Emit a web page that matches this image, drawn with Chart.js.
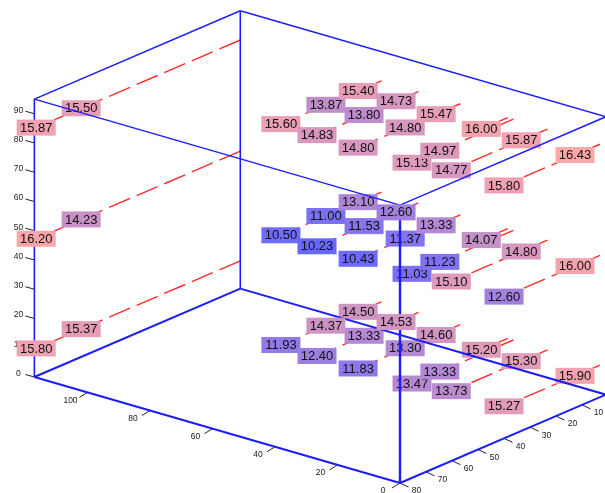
<!DOCTYPE html>
<html>
<head>
<meta charset="utf-8">
<style>
  html, body { margin: 0; padding: 0; background: #fff; }
  canvas { display: block; filter: blur(0.6px); }
</style>
<script src="https://cdn.jsdelivr.net/npm/chart.js@4.4.1/dist/chart.umd.min.js"></script>
</head>
<body>
<canvas id="chart" width="605" height="493"></canvas>
<script>
// axis ranges of the box
const xMax = 117;
const yMin = 0.8;
const yMax = 80;
const zMax = 95;

const xTicks = [100, 80, 60, 40, 20, 0];
const yTicks = [10, 20, 30, 40, 50, 60, 70, 80];
const zTicks = [0, 10, 20, 30, 40, 50, 60, 70, 80, 90];

// each red line runs along y at a fixed x and z
const lineX = [117, 71.8, 60, 46.6, 29.6, 31.4, 18.7, 1.9];
const lineY = [
  [79.3, 62],
  [39.5, 22.2, 9.8],
  [39.8, 21.7, 9.4],
  [40.1, 22, 10.1],
  [39.8, 29.1],
  [11],
  [37.8, 10.9],
  [37.7, 10.4],
];
const levelZ = [85, 47, 9.5];

const topValues = [15.87, 15.50, 15.60, 13.87, 15.40, 14.83, 13.80, 14.73, 14.80, 14.80, 15.47, 15.13, 14.97, 16.00, 14.77, 15.87, 15.80, 16.43];
const midValues = [16.20, 14.23, 10.50, 11.00, 13.10, 10.23, 11.53, 12.60, 10.43, 11.37, 13.33, 11.03, 11.23, 14.07, 15.10, 14.80, 12.60, 16.00];
const lowValues = [15.80, 15.37, 11.93, 14.37, 14.50, 12.40, 13.33, 14.53, 11.83, 13.30, 14.60, 13.47, 13.33, 15.20, 13.73, 15.30, 15.27, 15.90];
const levelValues = [topValues, midValues, lowValues];

// parallel projection of the box onto the page
const project = (x, y, z) => ({
  x: 400 - 3.125 * x + 2.6 * (yMax - y),
  y: 483 - 0.906 * x - 1.116 * (yMax - y) - 2.925 * z,
});

const lineSet = (data, color, width, extra) => Object.assign({
  data, showLine: true, borderColor: color, borderWidth: width, pointRadius: 0, clip: false,
}, extra);

const blue = '#1c1cff';
const corners = {
  a: [xMax, yMax], b: [xMax, yMin], r: [0, yMin], f: [0, yMax],
};
const edge = (p, q, zp, zq, width) => lineSet(
  [project(...corners[p], zp), project(...corners[q], zq)], blue, width);

const boxSets = [
  edge('a', 'b', 0, 0, 2), edge('b', 'r', 0, 0, 2), edge('r', 'f', 0, 0, 2), edge('f', 'a', 0, 0, 2),
  edge('a', 'b', zMax, zMax, 1.4), edge('b', 'r', zMax, zMax, 1.4), edge('r', 'f', zMax, zMax, 1.4), edge('f', 'a', zMax, zMax, 1.4),
  edge('a', 'a', 0, zMax, 1.6), edge('b', 'b', 0, zMax, 1.6), edge('f', 'f', 0, zMax, 2.4), edge('r', 'r', 0, zMax, 1.2),
];

const tickSets = [];
const tickTexts = [];
const addTick = (text, at, dx, dy, lx, ly) => {
  tickSets.push(lineSet([at, { x: at.x + dx, y: at.y + dy }], '#222', 1));
  tickTexts.push({ text, dataset: tickSets.length - 1, lx, ly });
};
xTicks.forEach((t) => addTick(t, project(t, yMax, 0), -8, 5, -9, 3));
yTicks.forEach((t) => addTick(t, project(0, t, 0), 8.5, 4, 8, 4));
zTicks.forEach((t) => addTick(t, project(xMax, yMax, t), -9, -2.5, -7, -1));

const redSets = [];
const pointSets = [];
levelZ.forEach((z) => {
  const pts = [];
  lineX.forEach((x, i) => {
    const marks = lineY[i].map((y) => project(x, y, z));
    pts.push(...marks);
    // drawn from the far wall so the dash phase starts there
    redSets.push(lineSet([project(x, yMin, z), ...marks.slice().reverse()], '#ff2a2a', 1.4, { borderDash: [22.7, 7.3] }));
  });
  pointSets.push({ data: pts, pointRadius: 0, showLine: false });
});

const datasets = [...boxSets, ...tickSets, ...redSets, ...pointSets];
const tickStart = boxSets.length;
const firstRed = boxSets.length + tickSets.length;
const firstPoints = firstRed + redSets.length;

const valueColor = (v) => {
  const t = (v - 10.23) / (16.43 - 10.23);
  const r = Math.round(104 + 151 * t);
  const g = Math.round(104 + 64 * t);
  const b = Math.round(255 - 87 * t);
  return `rgb(${r},${g},${b})`;
};

// these labels sit in front of the box lines, the rest behind
const inFront = (level, i) => i === 0 || i === 7 || (level === 2 && i === 3);

const drawLabels = (chart, front) => {
  const ctx = chart.ctx;
  ctx.save();
  ctx.font = '13px "Liberation Sans", Arial, sans-serif';
  ctx.textAlign = 'center';
  ctx.textBaseline = 'middle';
  levelValues.forEach((values, level) => {
    const els = chart.getDatasetMeta(firstPoints + level).data;
    values.forEach((v, i) => {
      if (inFront(level, i) !== front) return;
      const { x, y } = els[i];
      ctx.fillStyle = valueColor(v);
      ctx.fillRect(x - 19.5, y - 8, 39, 16);
      ctx.fillStyle = '#111';
      ctx.fillText(v.toFixed(2), x, y + 0.5);
    });
  });
  ctx.restore();
};

const labelPlugin = {
  id: 'boxLabels',
  // datasets paint from the highest index down, so the first red line is the last of them
  afterDatasetDraw(chart, args) {
    if (args.index === firstRed) drawLabels(chart, false);
  },
  afterDatasetsDraw(chart) {
    const ctx = chart.ctx;
    ctx.save();
    ctx.font = '8.5px "Liberation Sans", Arial, sans-serif';
    ctx.fillStyle = '#222';
    ctx.textAlign = 'center';
    ctx.textBaseline = 'middle';
    tickTexts.forEach((t) => {
      const end = chart.getDatasetMeta(tickStart + t.dataset).data[1];
      ctx.fillText(String(t.text), end.x + t.lx, end.y + t.ly);
    });
    ctx.restore();
    drawLabels(chart, true);
  },
};

new Chart(document.getElementById('chart').getContext('2d'), {
  type: 'scatter',
  data: { datasets },
  options: {
    responsive: false,
    animation: false,
    layout: { padding: 0 },
    plugins: { legend: { display: false }, tooltip: { enabled: false } },
    elements: { line: { tension: 0 } },
    scales: {
      x: { type: 'linear', min: 0, max: 605, display: false },
      y: { type: 'linear', min: 0, max: 493, reverse: true, display: false },
    },
  },
  plugins: [labelPlugin],
});
</script>
</body>
</html>
